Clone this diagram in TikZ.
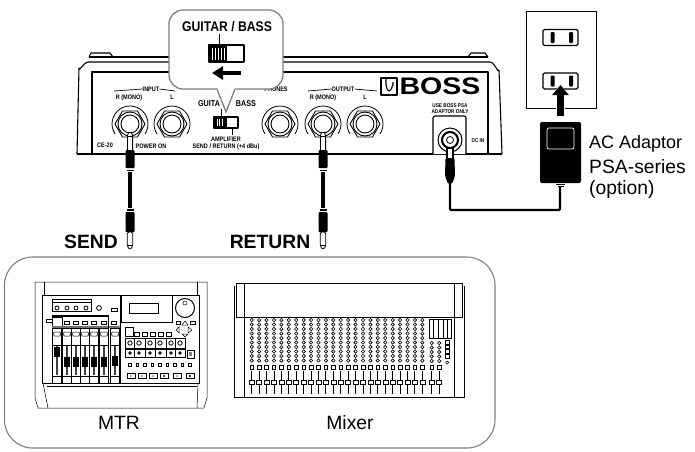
\documentclass[tikz,border=0pt]{standalone}
\usepackage{fontspec}
\setmainfont{Liberation Sans}
\usetikzlibrary{arrows.meta}
\definecolor{framegray}{HTML}{808080}
\tikzset{panel/.style={black,line width=1.1pt,line join=round}}
\tikzset{thinline/.style={black,line width=0.5pt}}
\tikzset{callout/.style={draw=framegray,fill=white,line width=1.3pt}}
\tikzset{frame/.style={draw=framegray,line width=1.1pt,rounded corners=28pt}}
\tikzset{paneltext/.style={font=\bfseries\fontsize{6.5}{7}\selectfont,inner sep=0pt,xscale=.85,transform shape}}
\tikzset{panelbig/.style={font=\bfseries\fontsize{8.5}{9}\selectfont,inner sep=0pt,xscale=.85,transform shape}}
\tikzset{heading/.style={font=\bfseries\fontsize{19.3}{21}\selectfont,inner sep=0pt}}
\tikzset{caption/.style={font=\fontsize{19.3}{21}\selectfont,inner sep=0pt}}
\tikzset{cable/.style={black,line width=2.4pt}}
\tikzset{bigarrow/.style={black,line width=7pt,-{Triangle[length=10pt,width=16pt]}}}
\begin{document}
\begin{tikzpicture}[x=1pt,y=-1pt]
    \useasboundingbox (0,0) rectangle (695,451);

    % pedal body
    \draw[panel] (89,57) -- (91,53) -- (110,53) -- (113,57);
    \draw[panel] (468,57) -- (471,53) -- (485,53) -- (488,57);
    \draw[panel] (89,57) -- (488,57);
    \draw[panel] (77,154) -- (79,68) to[out=-85,in=180] (88,62) -- (490,62) to[out=0,in=-95] (499,70) -- (502,154);
    \draw[panel,line width=1.5pt] (92,154) -- (92,72) -- (488,72) -- (488,154);
    \draw[panel,line width=1.5pt] (77,154) -- (502,154);

    % jacks
    \foreach \jx in {130,172,280,323,365} {
        \draw[thinline,line width=0.8pt] (\jx,124) circle (18);
        \fill[white] (\jx-19,134) rectangle (\jx+19,143);
        \draw[panel,line width=0.9pt,fill=white] (\jx-15,124) -- (\jx-7.5,111) -- (\jx+7.5,111) -- (\jx+15,124) -- (\jx+7.5,137) -- (\jx-7.5,137) -- cycle;
        \draw[panel,line width=0.9pt] (\jx,124) circle (12);
        \draw[panel,line width=0.9pt] (\jx,124) circle (9);
    }

    % panel labels
    \node[paneltext] (ceName) at (105,145) {CE-20};
    \node[paneltext] (powerOn) at (151,146) {POWER ON};
    \node[paneltext] (inputTxt) at (151,89) {INPUT};
    \node[paneltext] (inR) at (129,97.5) {R (MONO)};
    \node[paneltext] (inL) at (172,97.5) {L};
    \draw[thinline,line width=0.7pt] (114,91) -- (inputTxt.west);
    \draw[thinline,line width=0.7pt] (inputTxt.east) -- (175,91);
    \node[paneltext] (phones) at (276,89) {PHONES};
    \node[paneltext] (outputTxt) at (343,89) {OUTPUT};
    \node[paneltext] (outR) at (323,97.5) {R (MONO)};
    \node[paneltext] (outL) at (365,97.5) {L};
    \draw[thinline,line width=0.7pt] (308,91) -- (outputTxt.west);
    \draw[thinline,line width=0.7pt] (outputTxt.east) -- (377,91);
    \node[panelbig] (guitaTxt) at (209,104) {GUITA};
    \node[panelbig] (bassTxt) at (246,104) {BASS};
    \node[paneltext] (ampTxt) at (226,139.5) {AMPLIFIER};
    \node[paneltext] (sendTxt) at (226,146.5) {SEND / RETURN (+4 dBu)};

    % small switch
    \draw[panel] (214,117) rectangle (238,128);
    \fill (214,117) rectangle (227,128);
    \foreach \sx in {217,219.5,222} {
        \draw[white,line width=0.6pt] (\sx,119) -- (\sx,126);
    }
    \draw[thinline,line width=0.8pt] (221,109) -- (221,117);
    \draw[thinline,line width=0.8pt] (232,128) -- (232,135);

    % logo
    \draw[panel] (381,78) rectangle (397,95);
    \draw[panel] (386,78) -- (386,85) to[out=90,in=180] (389,91) to[out=0,in=90] (393,85) -- (393,82);
    \node[font=\bfseries\fontsize{24}{24}\selectfont,inner sep=0pt,xscale=1.19,transform shape] (bossTxt) at (440,86.5) {BOSS};

    % power input
    \node[paneltext,font=\bfseries\fontsize{5.5}{6}\selectfont] (useTxt) at (450,106) {USE BOSS PSA};
    \node[paneltext,font=\bfseries\fontsize{5.5}{6}\selectfont] (onlyTxt) at (450,112) {ADAPTOR ONLY};
    \node[paneltext,font=\bfseries\fontsize{5.5}{6}\selectfont] (dcTxt) at (478,141) {DC IN};
    \draw[panel,fill=white,rounded corners=2pt] (433,154) -- (433,116) -- (466,116) -- (466,154);
    \node[draw,circle,line width=1pt,minimum size=24pt,inner sep=0pt] (dcJack) at (450,140) {};
    \draw[panel,line width=2pt] (dcJack) circle (8);
    \draw[panel,line width=0.8pt] (dcJack) circle (3.5);

    % callout
    \path[callout] (217,89) [rounded corners=14pt] -- (169,89) -- (169,10) -- (283,10) -- (283,89) [sharp corners] -- (235,89) -- (226,112) -- cycle;
    \node[font=\bfseries\fontsize{14}{15}\selectfont,inner sep=0pt,xscale=.87,transform shape] (calloutTxt) at (227,27) {GUITAR / BASS};
    \draw[panel,line width=1.3pt] (209,45) rectangle (244,62);
    \fill (209,45) rectangle (227,62);
    \foreach \sx in {212.5,215.5,218.5,221.5,224.5} {
        \fill[white] (\sx-.7,47.5) rectangle (\sx+.7,59.5);
    }
    \draw[thinline,line width=0.9pt] (219,34) -- (219,45);
    \coordinate (swFrom) at (241,73);
    \coordinate (swTo) at (212,73);
    \draw[black,line width=4pt,-{Triangle[length=11pt,width=13pt]}] (swFrom) -- (swTo);

    % jack plugs and their leads
    \foreach \px in {130,323} {
        \draw[thinline,line width=0.8pt,fill=white,rounded corners=1.5pt] (\px-2.6,152) -- (\px-2.6,134) -- (\px,131.5) -- (\px+2.6,134) -- (\px+2.6,152) -- cycle;
        \draw[thinline,line width=0.5pt] (\px-2.6,136) -- (\px+2.6,136);
        \fill[rounded corners=1pt] (\px-4.5,150) rectangle (\px+4.5,168);
        \fill (\px-3.5,169.5) rectangle (\px+3.5,171);
        \fill (\px-2,172) rectangle (\px+2,208);
        \fill (\px-3.5,209) rectangle (\px+3.5,210.5);
        \fill[rounded corners=1pt] (\px-4.5,212) rectangle (\px+4.5,232);
        \draw[thinline,line width=0.8pt,fill=white,rounded corners=1.5pt] (\px-2.8,232) -- (\px-2.8,246) -- (\px,250) -- (\px+2.8,246) -- (\px+2.8,232) -- cycle;
        \draw[thinline,line width=0.5pt] (\px-2.8,245) -- (\px+2.8,245);
    }

    % dc plug, adaptor, lead
    \draw[panel,fill=white] (447,148) rectangle (453,160);
    \fill[rounded corners=1.5pt] (445.5,158) -- (454.5,158) -- (455,176) -- (452,184) -- (448,184) -- (445,176) -- cycle;
    \node[fill=black,rounded corners=2pt,minimum width=41pt,minimum height=61pt,inner sep=0pt] (adaptor) at (560.5,152.5) {};
    \node[draw=white,fill=black,line width=0.7pt,rounded corners=2pt,minimum width=27pt,minimum height=21pt,inner sep=0pt] (adaptorPanel) at (560.5,138.5) {};
    \fill (556,184) rectangle (565,185);
    \fill (557.5,186) rectangle (563.5,187);
    \coordinate (dcEnd) at (450,183);
    \coordinate (adaptorEnd) at (560,187);
    \draw[cable,rounded corners=1pt] (dcEnd) -- ++(0,27) -| (adaptorEnd);

    % wall outlet
    \node[draw,line width=0.9pt,minimum width=70pt,minimum height=97pt,inner sep=0pt] (outlet) at (561,59.5) {};
    \foreach \oy/\oname in {37.5/upperSocket,81/lowerSocket} {
        \node[draw,line width=1.2pt,rounded corners=1.5pt,minimum width=35pt,minimum height=16pt,inner sep=0pt] (\oname) at (560.5,\oy) {};
        \fill[rounded corners=1pt] (550.5,\oy-5.5) rectangle (554.5,\oy+5.5);
        \fill[rounded corners=1pt] (569,\oy-5.5) rectangle (573,\oy+5.5);
    }
    \coordinate (plugFrom) at (560.5,116);
    \coordinate (plugTo) at (560.5,85);
    \draw[white,line width=9pt,-{Triangle[length=12pt,width=20pt]}] (plugFrom) -- (plugTo);
    \draw[bigarrow] (plugFrom) -- (plugTo);

    % captions
    \node[caption,anchor=west,font=\fontsize{18}{20}\selectfont] (acTxt) at (589,144) {AC Adaptor};
    \node[caption,anchor=west] (psaTxt) at (589,167) {PSA-series};
    \node[caption,anchor=west] (optTxt) at (589,190) {(option)};
    \node[heading] (sendHead) at (91,242) {SEND};
    \node[heading] (returnHead) at (270,242) {RETURN};

    % equipment frame
    \draw[frame] (4.5,257) rectangle (495,448);
    \node[caption] (mtrTxt) at (119,423) {MTR};
    \node[caption] (mixerTxt) at (350,423) {Mixer};

    % mtr
    \begin{scope}[thinline]
        \draw (35,282) -- (207,282) -- (207,398) -- (204,408) -- (38,408) -- (35,398) -- cycle;
        \draw (44,282) -- (44,295);
        \draw (197,282) -- (197,295);
        \draw[line width=0.7pt] (42,295) rectangle (199,383);
        \draw (43,383) -- (48,408);
        \draw (198,383) -- (197,408);
        \draw[line width=0.7pt] (47,386) -- (197,386);
        \draw (120,295) -- (120,383);
        \draw[line width=0.7pt] (52,299) rectangle (91,311);
        \draw (52,302) -- (91,302);
        \foreach \kx in {57,67,76,86} {
            \draw[line width=0.8pt] (\kx,308) circle (2);
        }
        \draw[line width=0.8pt] (99,308) circle (2.4);
        \draw (111,308.5) rectangle (117,311.5);
        \draw (52,315) -- (108,315);
        \draw (52,316.5) -- (108,316.5);
        \draw (46,319) rectangle (52,322);
        \draw (52,317) rectangle (62,326);
        \foreach \rx in {67,76,85,94,104,114} {
            \draw (\rx-2.5,321.5) rectangle (\rx+2.5,324.5);
        }
        \fill[black!55] (52,326) rectangle (120,328);
        \draw (108,315) -- (108,328);
        % fader strips
        \foreach \sx/\cy in {57/352,67/362,76/362,85/362,94/362,104/362,115/361} {
            \draw (\sx-4.6,328) rectangle (\sx+4.6,383);
            \draw[rounded corners=1pt] (\sx-3.5,332) rectangle (\sx+3.5,336);
            \draw (\sx-4.6,345) -- (\sx+4.6,345);
            \draw (\sx-4.6,376) -- (\sx+4.6,376);
            \fill[black!75] (\sx-1,346) rectangle (\sx+1,375);
            \fill (\sx-2.6,\cy-5) rectangle (\sx+2.6,\cy+5);
        }
        % display and wheel
        \draw[line width=0.7pt] (121,295) rectangle (172,322);
        \draw[line width=0.8pt] (129,303) rectangle (158,313);
        \draw[line width=1pt] (185,308) circle (9.5);
        \draw (185,303) circle (2);
        \draw (176,321) rectangle (180,324);
        \draw (190,321) rectangle (195,324);
        \draw (182,325) -- (185,321) -- (188,325) -- cycle;
        \draw (179,327) -- (176,330) -- (179,333) -- cycle;
        \draw (188,327) -- (192,330) -- (188,333) -- cycle;
        \draw (182,334) -- (188,334) -- (185,337) -- cycle;
        % buttons
        \draw[line width=0.8pt] (125,327) rectangle (133,336);
        \foreach \bx in {137,145,153,161,169} {
            \draw (\bx-2.5,332) rectangle (\bx+2.5,336);
        }
        \draw[line width=0.8pt] (125,338) rectangle (185,348);
        \draw (125,349) rectangle (185,357);
        \foreach \bx in {130,139,150,160,171,180} {
            \draw (\bx-4.5,338) -- (\bx-4.5,348);
            \draw[line width=0.8pt] (\bx,343) circle (2.2);
            \draw (\bx-4.5,349) -- (\bx-4.5,357);
            \draw[line width=0.8pt] (\bx,353) circle (1.2);
        }
        \draw[line width=0.8pt] (187,350) rectangle (194,358);
        \fill[black!50] (189,352) rectangle (192,356);
        \foreach \i in {0,...,8} {
            \draw[line width=0.8pt] (130+7.5*\i-1.2,363.8) rectangle (130+7.5*\i+1.2,366.2);
        }
        \foreach \bx/\bshade in {131/30,142/30,153/30,164/70,177/30,190/80} {
            \draw (\bx-4,373.5) rectangle (\bx+4,378);
            \fill[black!\bshade] (\bx-1.2,374.8) rectangle (\bx+1.2,376.8);
        }
    \end{scope}

    % mixer
    \begin{scope}[thinline]
        \draw[line width=0.7pt] (236,283) rectangle (462,317);
        \draw[line width=0.7pt] (234,286) -- (234,397) -- (244,397) -- (244,283);
        \draw[line width=0.7pt] (464,286) -- (464,397) -- (454,397) -- (454,283);
        \draw[line width=0.7pt] (244,397) -- (454,397);
        \foreach \i in {0,...,23} {
            \pgfmathsetmacro{\cx}{251.7+7.42*\i}
            \foreach \ky in {320,324.5,329,333.5,338,342.5,347,351.5,356,360.5} {
                \draw[line width=0.6pt] (\cx,\ky) circle (1.7);
            }
            \draw[line width=0.6pt] (\cx-1.8,365.2) rectangle (\cx+1.8,368.8);
            \draw[line width=0.9pt] (\cx,371) -- (\cx,394);
            \draw[fill=white] (\cx-2.5,380) rectangle (\cx+2.5,384);
        }
        \foreach \cx in {431.7,439.2} {
            \foreach \ky in {343,347.5,352,356.5,361} {
                \draw[line width=0.6pt] (\cx,\ky) circle (1.7);
            }
            \draw[line width=0.6pt] (\cx-1.8,365.2) rectangle (\cx+1.8,368.8);
            \draw[line width=0.9pt] (\cx,371) -- (\cx,394);
            \draw[fill=white] (\cx-2.5,380) rectangle (\cx+2.5,384);
        }
        \draw[line width=0.8pt] (429,319) rectangle (451,338);
        \draw[line width=1.1pt] (429,319.5) -- (451,319.5);
        \foreach \mx in {433,438,443,447} {
            \draw[line width=0.6pt] (\mx,320) -- (\mx,338);
        }
        \foreach \ky in {342.5,347,351.5,356.5} {
            \draw[line width=0.7pt] (445,\ky-1.7) rectangle (449.5,\ky+1.7);
        }
        \draw (447.2,362.5) circle (1.5);
    \end{scope}
\end{tikzpicture}
\end{document}
